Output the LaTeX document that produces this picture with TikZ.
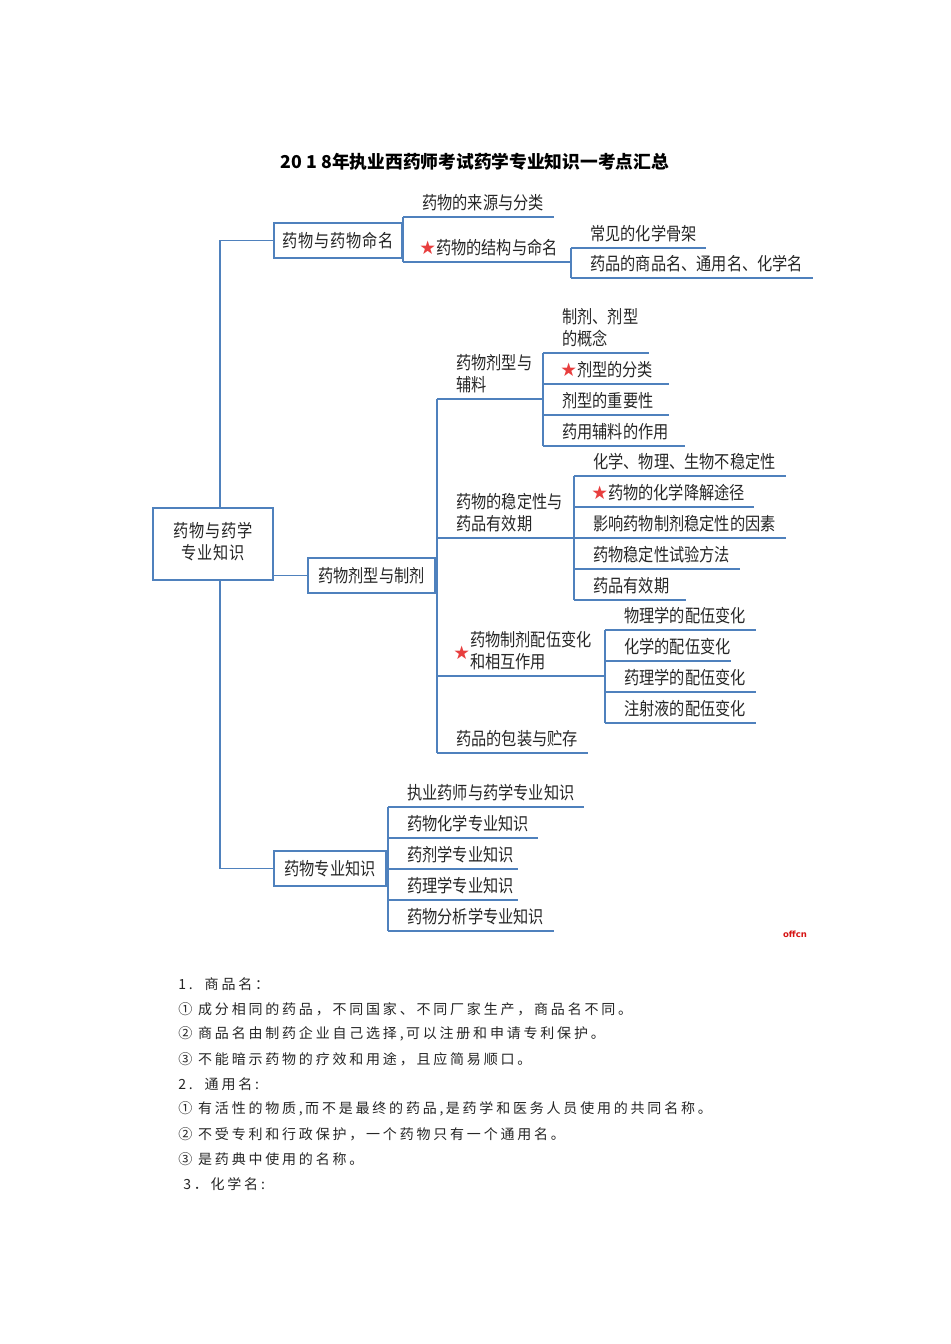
\documentclass[tikz,border=0pt]{standalone}
\usepackage{graphicx}
\usepackage{fontspec}
\setmainfont{Noto Sans CJK SC}
\newfontfamily\cjk{Noto Sans CJK SC}
\newfontfamily\cjkwide[LetterSpace=6]{Noto Sans CJK SC}
\newfontfamily\cjkroot[LetterSpace=6]{Noto Sans CJK SC}
\newfontfamily\bodyfam[LetterSpace=20]{Noto Sans CJK SC}
\newfontfamily\starfam{DejaVu Sans}
\newfontfamily\markfam{DejaVu Sans}
\definecolor{lineblue}{RGB}{79,129,189}
\definecolor{starred}{RGB}{232,62,62}
\definecolor{textcol}{RGB}{38,38,38}
\definecolor{offred}{RGB}{214,20,20}
\newdimen\px \px=0.75pt
\newcommand\tall[1]{\scalebox{1}[1.18]{#1}}
\newcommand\leafbox[2]{\makebox[#1\px][l]{\hspace*{19\px}\tall{#2}}}
\newcommand\redstar{{\color{starred}\starfam\fontsize{14pt}{14pt}\selectfont\raisebox{-0.5pt}{★}}}
\newcommand\twol[2]{\begin{tabular}[b]{@{}l@{}}#1\\#2\end{tabular}}
\tikzset{
  conn/.style={draw=lineblue, line width=1pt},
  leaf/.style={anchor=south west, inner xsep=0pt, inner ysep=5.6pt, text depth=0pt,
    text=textcol, font=\cjk\fontsize{11.4pt}{14pt}\selectfont},
  box/.style={draw=lineblue, line width=1pt, fill=white, inner sep=0pt, align=center,
    text=textcol, minimum height=26.25pt, font=\cjk\fontsize{11.4pt}{14pt}\selectfont},
  body/.style={anchor=west, inner sep=0pt, text=textcol,
    font=\bodyfam\fontsize{10.5pt}{14pt}\selectfont}
}
\begin{document}
\begin{tikzpicture}[x=0.75pt,y=-0.75pt]
\fill[white] (0,0) rectangle (950,1344);
\useasboundingbox (0,0) rectangle (950,1344);

% title
\node[font=\cjk\fontsize{13.3pt}{16pt}\selectfont\bfseries, text=black] (title) at (475,162)
  {20 1 8年执业西药师考试药学专业知识一考点汇总};

% boxes
\node[box, minimum width=90pt, minimum height=54pt, font=\cjkroot\fontsize{11.4pt}{13.3pt}\selectfont] (root) at (213,544) {\tall{\begin{tabular}{@{}c@{}}药物与药学\\专业知识\end{tabular}}};
\node[box, minimum width=96pt, font=\cjkwide\fontsize{11.4pt}{14pt}\selectfont] (A) at (338,240.5) {\tall{药物与药物命名}};
\node[box, minimum width=95.25pt] (B) at (371.5,575.5) {\tall{药物剂型与制剂}};
\node[box, minimum width=84pt] (C) at (330,868.5) {\tall{药物专业知识}};

% group A leaves
\node[leaf] (a1) at (403,217) {\leafbox{150}{药物的来源与分类}};
\node[leaf] (a2) at (403,262) {\makebox[168\px][l]{\hspace*{16\px}\redstar\tall{药物的结构与命名}}};
\node[leaf] (a21) at (571,248) {\leafbox{134}{常见的化学骨架}};
\node[leaf] (a22) at (571,278) {\leafbox{241}{药品的商品名、通用名、化学名}};

% group B leaves
\node[leaf] (b1) at (437,399) {\leafbox{106}{\twol{药物剂型与}{辅料}}};
\node[leaf] (b2) at (437,538) {\leafbox{137}{\twol{药物的稳定性与}{药品有效期}}};
\node[leaf] (b3) at (437,676) {\makebox[168\px][l]{\hspace*{16\px}\raisebox{7pt}{\redstar}\tall{\twol{药物制剂配伍变化}{和相互作用}}}};
\node[leaf] (b4) at (437,753) {\leafbox{150}{药品的包装与贮存}};

\node[leaf] (b11) at (543,353) {\leafbox{105}{\twol{制剂、剂型}{的概念}}};
\node[leaf] (b12) at (543,384) {\makebox[125\px][l]{\hspace*{17\px}\redstar\tall{剂型的分类}}};
\node[leaf] (b13) at (543,415) {\leafbox{125}{剂型的重要性}};
\node[leaf] (b14) at (543,446) {\leafbox{141}{药用辅料的作用}};

\node[leaf] (b21) at (574,476) {\leafbox{211}{化学、物理、生物不稳定性}};
\node[leaf] (b22) at (574,507) {\makebox[179\px][l]{\hspace*{17\px}\redstar\tall{药物的化学降解途径}}};
\node[leaf] (b23) at (574,538) {\leafbox{211}{影响药物制剂稳定性的因素}};
\node[leaf] (b24) at (574,569) {\leafbox{165}{药物稳定性试验方法}};
\node[leaf] (b25) at (574,600) {\leafbox{111}{药品有效期}};

\node[leaf] (b31) at (605,630) {\leafbox{150}{物理学的配伍变化}};
\node[leaf] (b32) at (605,661) {\leafbox{125}{化学的配伍变化}};
\node[leaf] (b33) at (605,692) {\leafbox{150}{药理学的配伍变化}};
\node[leaf] (b34) at (605,723) {\leafbox{150}{注射液的配伍变化}};

% group C leaves
\node[leaf] (c1) at (388,807) {\leafbox{195}{执业药师与药学专业知识}};
\node[leaf] (c2) at (388,838) {\leafbox{149}{药物化学专业知识}};
\node[leaf] (c3) at (388,869) {\leafbox{129}{药剂学专业知识}};
\node[leaf] (c4) at (388,900) {\leafbox{129}{药理学专业知识}};
\node[leaf] (c5) at (388,931) {\leafbox{165}{药物分析学专业知识}};

% underlines
\foreach \n in {a1,a2,a21,a22,b1,b2,b3,b4,b11,b12,b13,b14,b21,b22,b23,b24,b25,b31,b32,b33,b34,c1,c2,c3,c4,c5}
  \draw[conn] (\n.south west) -- (\n.south east);

% connectors
\coordinate (tk) at (220,240.5);
\draw[conn] (A.west) -- (tk) -- (tk |- root.north);
\draw[conn] (tk |- root.south) -- (tk |- C.west) -- (C.west);
\draw[conn] (root.east |- B.west) -- (B.west);

\draw[conn] (A.east) -- (A.east -| a1.south west);
\draw[conn] (a1.south west) -- (a2.south west);
\draw[conn] (a21.south west) -- (a22.south west);

\draw[conn] (B.east) -- (B.east -| b1.south west);
\draw[conn] (b1.south west) -- (b4.south west);
\draw[conn] (b11.south west) -- (b14.south west);
\draw[conn] (b21.south west) -- (b25.south west);
\draw[conn] (b31.south west) -- (b34.south west);

\draw[conn] (C.east) -- (C.east -| c1.south west);
\draw[conn] (c1.south west) -- (c5.south west);

% logo
\node[text=offred, font=\markfam\fontsize{6.4pt}{7pt}\selectfont\bfseries] (logo) at (795,934) {offcn};

% notes
\node[body] (t1) at (178,984) {1.\hspace{9pt}商品名：};
\node[body] (t2) at (178,1009) {① 成分相同的药品，不同国家、不同厂家生产，商品名不同。};
\node[body] (t3) at (178,1034) {② 商品名由制药企业自己选择,\,可以注册和申请专利保护。};
\node[body] (t4) at (178,1059) {③ 不能暗示药物的疗效和用途，且应简易顺口。};
\node[body] (t5) at (178,1084) {2.\hspace{9pt}通用名:};
\node[body] (t6) at (178,1109) {① 有活性的物质,\,而不是最终的药品,\,是药学和医务人员使用的共同名称。};
\node[body] (t7) at (178,1134) {② 不受专利和行政保护，一个药物只有一个通用名。};
\node[body] (t8) at (178,1159) {③ 是药典中使用的名称。};
\node[body] (t9) at (183,1184) {3．化学名:};
\end{tikzpicture}
\end{document}
